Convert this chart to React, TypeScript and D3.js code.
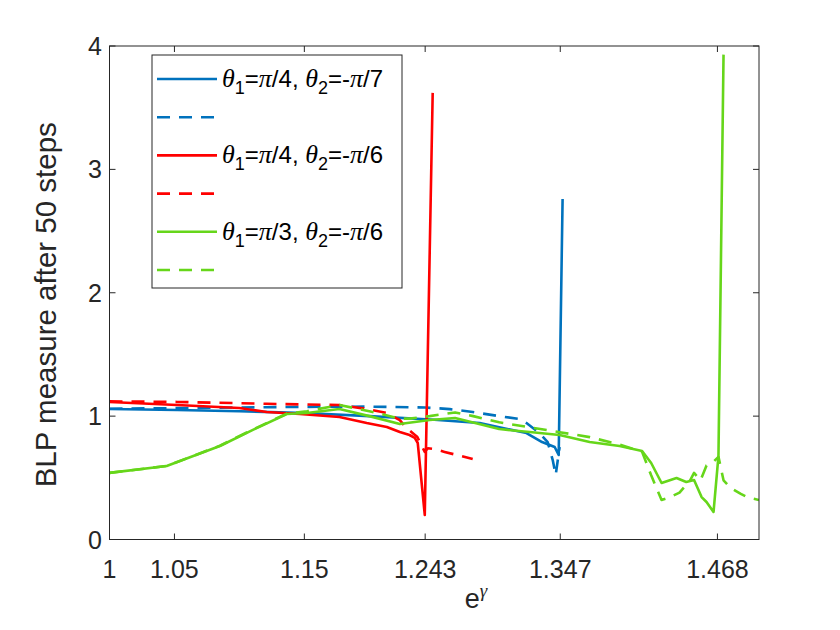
import React from "react";
import * as d3 from "d3";

// e^gamma values (x) and BLP measure after 50 steps (y)
const blueSolidX = [1.0, 1.052, 1.1, 1.15, 1.2, 1.25, 1.285, 1.3, 1.321, 1.333, 1.3427, 1.3458, 1.3488];
const blueSolidY = [1.058, 1.05, 1.04, 1.025, 1.0, 0.97, 0.944, 0.91, 0.863, 0.79, 0.75, 0.685, 2.76];

const blueDashX = [1.0, 1.05, 1.1, 1.15, 1.2, 1.243, 1.262, 1.2796, 1.3, 1.3158, 1.321, 1.331, 1.3373, 1.3412, 1.3435, 1.3465];
const blueDashY = [1.06, 1.065, 1.07, 1.075, 1.077, 1.07, 1.057, 1.033, 1.0, 0.976, 0.944, 0.863, 0.79, 0.644, 0.523, 0.75];

const redSolidX = [1.0, 1.052, 1.1, 1.121, 1.1465, 1.177, 1.198, 1.2135, 1.2235, 1.231, 1.235, 1.2373, 1.2427, 1.2488];
const redSolidY = [1.114, 1.09, 1.066, 1.033, 1.017, 0.993, 0.944, 0.912, 0.871, 0.847, 0.823, 0.782, 0.199, 3.62];

const redDashX = [1.0, 1.052, 1.1, 1.121, 1.177, 1.198, 1.2135, 1.2235, 1.228, 1.237, 1.2427, 1.245, 1.25, 1.258, 1.2796];
const redDashY = [1.12, 1.115, 1.105, 1.1, 1.09, 1.058, 1.025, 0.968, 0.91, 0.83, 0.71, 0.74, 0.733, 0.71, 0.652];

const greenSolidX = [1.0, 1.044, 1.085, 1.11, 1.1365, 1.152, 1.177, 1.2, 1.2235, 1.2465, 1.266, 1.3, 1.3235, 1.3465, 1.3696, 1.3927, 1.41, 1.417, 1.425, 1.4365, 1.444, 1.45, 1.4558, 1.4596, 1.465, 1.4688, 1.4727];
const greenSolidY = [0.54, 0.596, 0.758, 0.887, 1.017, 1.025, 1.058, 1.0, 0.936, 0.968, 0.985, 0.895, 0.871, 0.847, 0.79, 0.758, 0.717, 0.62, 0.458, 0.498, 0.466, 0.482, 0.344, 0.304, 0.223, 0.677, 3.93];

const greenDashX = [1.0, 1.044, 1.085, 1.11, 1.1365, 1.152, 1.177, 1.2, 1.2235, 1.231, 1.2465, 1.266, 1.28, 1.3, 1.3465, 1.3696, 1.3927, 1.41, 1.417, 1.425, 1.431, 1.4388, 1.447, 1.45, 1.455, 1.4596, 1.465, 1.4688, 1.4727, 1.478, 1.486, 1.4915, 1.5];
const greenDashY = [0.54, 0.596, 0.76, 0.89, 1.02, 1.04, 1.09, 1.04, 0.98, 0.98, 1.0, 1.03, 1.0, 0.95, 0.87, 0.83, 0.77, 0.71, 0.52, 0.32, 0.34, 0.38, 0.48, 0.54, 0.48, 0.6, 0.63, 0.67, 0.48, 0.42, 0.37, 0.34, 0.32];

const xTicks = [1, 1.05, 1.15, 1.243, 1.347, 1.468];
const xTickLabels = ["1", "1.05", "1.15", "1.243", "1.347", "1.468"];
const yTicks = [0, 1, 2, 3, 4];

const BLUE = "#0072BD";
const RED = "#FF0000";
const GREEN = "#66D61A";
const AXIS = "#262626";

const series = [
  { xs: blueSolidX, ys: blueSolidY, color: BLUE, dash: "" },
  { xs: blueDashX, ys: blueDashY, color: BLUE, dash: "13,9" },
  { xs: redSolidX, ys: redSolidY, color: RED, dash: "" },
  { xs: redDashX, ys: redDashY, color: RED, dash: "13,9" },
  { xs: greenSolidX, ys: greenSolidY, color: GREEN, dash: "" },
  { xs: greenDashX, ys: greenDashY, color: GREEN, dash: "13,9" },
];

const legendLabels = [
  ["4", "7"],
  null,
  ["4", "6"],
  null,
  ["3", "6"],
  null,
];

const W = 840;
const H = 630;
const left = 109.5;
const right = 759;
const top = 46;
const bottom = 539.5;

const App: React.FC = () => {
  const x = d3.scaleLinear().domain([1, 1.5]).range([left, right]);
  const y = d3.scaleLinear().domain([0, 4]).range([bottom, top]);
  const line = d3.line<[number, number]>()
    .x((d) => x(d[0]))
    .y((d) => y(d[1]));

  const font = "'Liberation Sans', Arial, Helvetica, sans-serif";
  const sym = "'Liberation Serif', 'Times New Roman', serif";
  const tick = 6;

  const lgX = 152, lgY = 55, lgW = 250, lgH = 233, rowH = 38.2;

  return (
    <svg width={W} height={H} style={{ position: "absolute", left: 0, top: 0, background: "#fff" }}>
      <defs>
        <clipPath id="plot">
          <rect x={left} y={top} width={right - left} height={bottom - top} />
        </clipPath>
      </defs>
      <rect x={0} y={0} width={W} height={H} fill="#fff" />

      <g clipPath="url(#plot)">
        {series.map((s, i) => (
          <path
            key={i}
            d={line(s.xs.map((v, j) => [v, s.ys[j]] as [number, number])) || ""}
            fill="none"
            stroke={s.color}
            strokeWidth={2.6}
            strokeDasharray={s.dash || undefined}
            strokeLinejoin="round"
          />
        ))}
      </g>

      {/* axes box and ticks */}
      <rect x={left} y={top} width={right - left} height={bottom - top} fill="none" stroke={AXIS} strokeWidth={1} />
      {xTicks.map((t) => (
        <g key={"x" + t}>
          <line x1={x(t)} x2={x(t)} y1={bottom} y2={bottom - tick} stroke={AXIS} />
          <line x1={x(t)} x2={x(t)} y1={top} y2={top + tick} stroke={AXIS} />
        </g>
      ))}
      {yTicks.map((t) => (
        <g key={"y" + t}>
          <line x1={left} x2={left + tick} y1={y(t)} y2={y(t)} stroke={AXIS} />
          <line x1={right} x2={right - tick} y1={y(t)} y2={y(t)} stroke={AXIS} />
        </g>
      ))}
      {xTicks.map((t, i) => (
        <text key={"xl" + t} x={x(t)} y={578} textAnchor="middle" fontFamily={font} fontSize={25} fill={AXIS}>
          {xTickLabels[i]}
        </text>
      ))}
      {yTicks.map((t) => (
        <text key={"yl" + t} x={102} y={y(t) + 9} textAnchor="end" fontFamily={font} fontSize={25} fill={AXIS}>
          {t}
        </text>
      ))}

      {/* axis labels */}
      <text x={476} y={608} textAnchor="middle" fontFamily={font} fontSize={27} fill={AXIS}>
        e<tspan fontFamily={sym} fontStyle="italic" fontSize={19} dy={-11}>γ</tspan>
      </text>
      <text
        transform={`translate(56, ${(top + bottom) / 2 + 12}) rotate(-90)`}
        textAnchor="middle"
        fontFamily={font}
        fontSize={29.5}
        fill={AXIS}
      >
        BLP measure after 50 steps
      </text>

      {/* legend */}
      <rect x={lgX} y={lgY} width={lgW} height={lgH} fill="#fff" stroke={AXIS} strokeWidth={1} />
      {series.map((s, i) => {
        const ry = lgY + 24 + i * rowH;
        const lab = legendLabels[i];
        return (
          <g key={"lg" + i}>
            <line x1={157} x2={217} y1={ry} y2={ry} stroke={s.color} strokeWidth={2.6} strokeDasharray={s.dash || undefined} />
            {lab && (
              <text x={222} y={ry + 8} fontFamily={font} fontSize={24} fill="#000">
                <tspan fontFamily={sym} fontStyle="italic" fontSize={26}>θ</tspan>
                <tspan fontSize={18} dy={7}>1</tspan>
                <tspan dy={-7}>=</tspan>
                <tspan fontFamily={sym} fontStyle="italic" fontSize={26}>π</tspan>
                <tspan>/{lab[0]}, </tspan>
                <tspan fontFamily={sym} fontStyle="italic" fontSize={26}>θ</tspan>
                <tspan fontSize={18} dy={7}>2</tspan>
                <tspan dy={-7}>=-</tspan>
                <tspan fontFamily={sym} fontStyle="italic" fontSize={26}>π</tspan>
                <tspan>/{lab[1]}</tspan>
              </text>
            )}
          </g>
        );
      })}
    </svg>
  );
};

export default App;
